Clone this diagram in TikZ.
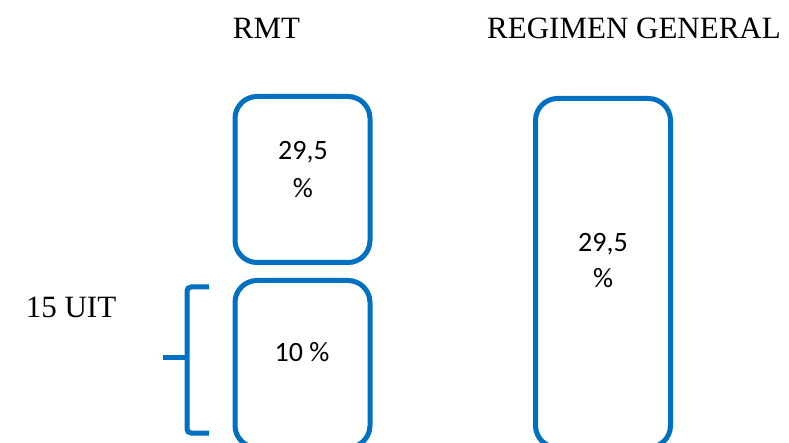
\documentclass[tikz,border=0pt]{standalone}
\usepackage{fontspec}
\setmainfont{Liberation Serif}
\newfontfamily\boxfont{Carlito}
\definecolor{officeblue}{RGB}{0,112,192}
\tikzset{
  taxbox/.style={draw=officeblue, line width=5pt, rounded corners=22pt,
    minimum width=135pt, inner sep=0pt},
  heading/.style={anchor=base, inner sep=0pt, font=\fontsize{31}{36}\selectfont},
  rate/.style={anchor=base, inner sep=0pt, font=\boxfont\fontsize{28}{34}\selectfont},
  bracket/.style={draw=officeblue, line width=5pt, rounded corners=4pt}
}
\begin{document}
\begin{tikzpicture}[x=1pt, y=-1pt]
  \clip (0,0) rectangle (789,443);
  \fill[white] (0,0) rectangle (789,443);

  % column headings
  \node[heading] (rmt) at (266.5,39) {RMT};
  \node[heading] (rg) at (634,39) {REGIMEN GENERAL};

  % RMT: two stacked brackets
  \node[taxbox, minimum height=166pt] (upper) at (302.5,179.5) {};
  \node[taxbox, minimum height=167pt] (lower) at (302.5,364) {};
  \node[rate] (upperA) at (303,160) {29,5};
  \node[rate] (upperB) at (303,198) {\%};
  \node[rate] (lowerA) at (302,361) {10 \%};

  % general regime: one tall box
  \node[taxbox, minimum height=349pt] (general) at (603,273) {};
  \node[rate] (generalA) at (603,252) {29,5};
  \node[rate] (generalB) at (603,288) {\%};

  % brace marking the first 15 UIT
  \draw[bracket] (209,287) -- (187,287) -- (187,433) -- (209,433);
  \draw[officeblue, line width=5pt] (187,357) -- (163,357);
  \node[heading] (uit) at (71,318) {15 UIT};
\end{tikzpicture}
\end{document}
